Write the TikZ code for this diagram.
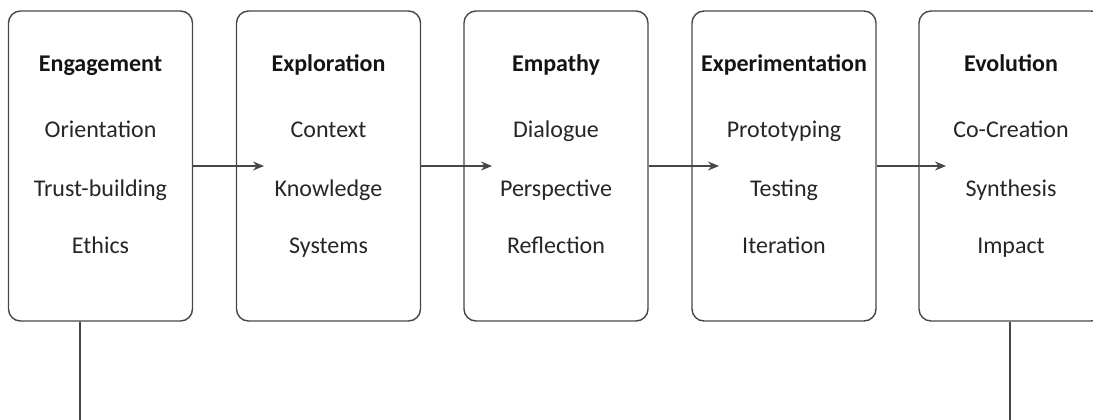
\documentclass[tikz,border=0pt]{standalone}
\usepackage{fontspec}
\setmainfont{Carlito}
\usetikzlibrary{arrows.meta}
\definecolor{linec}{HTML}{474747}
\definecolor{txt}{HTML}{262626}
\tikzset{
  stage/.style={draw=linec, line width=1.4pt, rounded corners=12pt, minimum width=184pt, minimum height=310pt, inner sep=0pt},
  head/.style={anchor=base, font=\fontsize{24}{28}\selectfont\bfseries, text=black!92},
  item/.style={anchor=base, font=\fontsize{24}{28}\selectfont, text=txt},
  flow/.style={draw=linec, line width=1.4pt, -{Stealth[length=11pt,width=9pt]}},
  link/.style={draw=linec, line width=1.4pt}
}
\begin{document}
\begin{tikzpicture}[x=1pt,y=-1pt]
\useasboundingbox (0,0) rectangle (1093,420);
\clip (0,0) rectangle (1093,420);
\node[stage] (b1) at (100.5,166) {};
\node[stage] (b2) at (328.5,166) {};
\node[stage] (b3) at (556,166) {};
\node[stage] (b4) at (784,166) {};
\node[stage] (b5) at (1011,166) {};
% texts
\node[head] (h1) at (100.5,72) {Engagement};
\node[item] (t11) at (100.5,137) {Orientation};
\node[item] (t12) at (100.5,196) {Trust-building};
\node[item] (t13) at (100.5,253) {Ethics};
\node[head] (h2) at (328.5,72) {Exploration};
\node[item] (t21) at (328.5,137) {Context};
\node[item] (t22) at (328.5,196) {Knowledge};
\node[item] (t23) at (328.5,253) {Systems};
\node[head] (h3) at (556,72) {Empathy};
\node[item] (t31) at (556,137) {Dialogue};
\node[item] (t32) at (556,196) {Perspective};
\node[item] (t33) at (556,253) {Reflection};
\node[head] (h4) at (784,72) {Experimentation};
\node[item] (t41) at (784,137) {Prototyping};
\node[item] (t42) at (784,196) {Testing};
\node[item] (t43) at (784,253) {Iteration};
\node[head] (h5) at (1011,72) {Evolution};
\node[item] (t51) at (1011,137) {Co-Creation};
\node[item] (t52) at (1011,196) {Synthesis};
\node[item] (t53) at (1011,253) {Impact};
% arrows
\coordinate (a2) at (264,166);
\coordinate (a3) at (492,166);
\coordinate (a4) at (719,166);
\coordinate (a5) at (946,166);
\draw[flow] (b1.east) -- (a2);
\draw[flow] (b2.east) -- (a3);
\draw[flow] (b3.east) -- (a4);
\draw[flow] (b4.east) -- (a5);
% loop lines
\coordinate (d1) at (80,420);
\coordinate (d5) at (1010,420);
\draw[link] (d1 |- b1.south) -- (d1);
\draw[link] (d5 |- b5.south) -- (d5);
\end{tikzpicture}
\end{document}
